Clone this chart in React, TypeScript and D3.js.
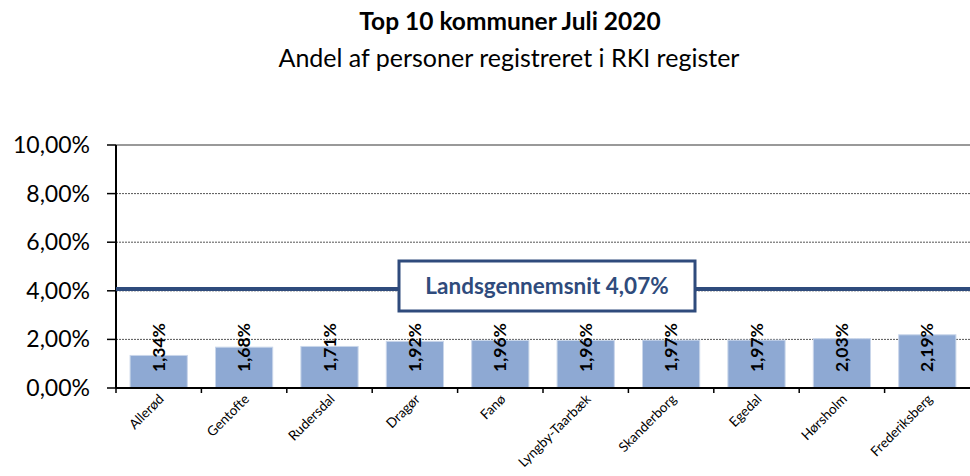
import React, { useEffect, useRef } from "react"
import * as d3 from "d3"

const kommuner = ["Allerød", "Gentofte", "Rudersdal", "Dragør", "Fanø", "Lyngby-Taarbæk", "Skanderborg", "Egedal", "Hørsholm", "Frederiksberg"]
const andel = [1.34, 1.68, 1.71, 1.92, 1.96, 1.96, 1.97, 1.97, 2.03, 2.19]
const yTicks = [0, 2, 4, 6, 8, 10]
const landsgennemsnit = 4.07

const fmt = (v: number, d: number) => v.toFixed(d).replace(".", ",") + "%"

export default function App() {
  const ref = useRef<SVGSVGElement>(null)

  useEffect(() => {
    const svg = d3.select(ref.current)
    svg.selectAll("*").remove()

    const left = 116
    const right = 970
    const top = 145
    const bottom = 388
    const font = "Lato, 'Open Sans', sans-serif"

    const x = d3.scaleBand().domain(kommuner).range([left, right]).paddingInner(0.33).paddingOuter(0.165)
    const y = d3.scaleLinear().domain([0, 10]).range([bottom, top])

    // titel
    svg.append("text")
      .attr("x", 510).attr("y", 30)
      .attr("text-anchor", "middle")
      .attr("font-family", font).attr("font-weight", "bold").attr("font-size", 24.5)
      .text("Top 10 kommuner Juli 2020")
    svg.append("text")
      .attr("x", 509).attr("y", 67)
      .attr("text-anchor", "middle")
      .attr("font-family", font).attr("font-size", 25)
      .text("Andel af personer registreret i RKI register")

    // gitterlinjer
    svg.append("g")
      .selectAll("line")
      .data(yTicks.filter(t => t > 0 && t < 10))
      .join("line")
      .attr("x1", left).attr("x2", right)
      .attr("y1", d => y(d)).attr("y2", d => y(d))
      .attr("stroke", "#555").attr("stroke-width", 1)
      .attr("stroke-dasharray", "2,1")

    svg.append("line")
      .attr("x1", left).attr("x2", right)
      .attr("y1", y(10)).attr("y2", y(10))
      .attr("stroke", "#999").attr("stroke-width", 2)

    // søjler
    svg.append("g")
      .selectAll("rect")
      .data(andel)
      .join("rect")
      .attr("x", (d, i) => x(kommuner[i]) as number)
      .attr("width", x.bandwidth())
      .attr("y", d => y(d))
      .attr("height", d => bottom - y(d))
      .attr("fill", "#8EA9D3")
      .attr("stroke", "#C9D6EA").attr("stroke-width", 1)

    // y-akse
    const yAxis = svg.append("g")
    yAxis.append("line")
      .attr("x1", left).attr("x2", left)
      .attr("y1", top).attr("y2", bottom)
      .attr("stroke", "#000").attr("stroke-width", 2)
    yAxis.selectAll("line.tick")
      .data(yTicks)
      .join("line")
      .attr("class", "tick")
      .attr("x1", left - 9).attr("x2", left)
      .attr("y1", d => y(d)).attr("y2", d => y(d))
      .attr("stroke", "#000").attr("stroke-width", 1.5)
    yAxis.selectAll("text")
      .data(yTicks)
      .join("text")
      .attr("x", 90)
      .attr("y", d => y(d))
      .attr("dy", "0.35em")
      .attr("text-anchor", "end")
      .attr("font-family", font).attr("font-size", 23)
      .text(d => fmt(d, 2))

    // x-akse
    const xAxis = svg.append("g")
    xAxis.append("line")
      .attr("x1", left).attr("x2", right)
      .attr("y1", bottom).attr("y2", bottom)
      .attr("stroke", "#000").attr("stroke-width", 2)
    const step = x.step()
    xAxis.selectAll("line.tick")
      .data(kommuner)
      .join("line")
      .attr("class", "tick")
      .attr("x1", (d) => (x(d) as number) - (step - x.bandwidth()) / 2)
      .attr("x2", (d) => (x(d) as number) - (step - x.bandwidth()) / 2)
      .attr("y1", bottom).attr("y2", bottom + 5)
      .attr("stroke", "#000").attr("stroke-width", 1.5)
    xAxis.selectAll("text")
      .data(kommuner)
      .join("text")
      .attr("transform", d => `translate(${(x(d) as number) + x.bandwidth() / 2 + 6},${bottom + 12}) rotate(-45)`)
      .attr("text-anchor", "end")
      .attr("font-family", font).attr("font-size", 13.5)
      .text(d => d)

    // værdi-etiketter
    svg.append("g")
      .selectAll("text")
      .data(andel)
      .join("text")
      .attr("transform", (d, i) => `translate(${(x(kommuner[i]) as number) + x.bandwidth() / 2},372) rotate(-90)`)
      .attr("dy", "0.35em")
      .attr("text-anchor", "start")
      .attr("font-family", font).attr("font-weight", "bold").attr("font-size", 17.5)
      .text(d => fmt(d, 2))

    // landsgennemsnit
    const yAvg = y(landsgennemsnit)
    svg.append("line")
      .attr("x1", left).attr("x2", right)
      .attr("y1", yAvg).attr("y2", yAvg)
      .attr("stroke", "#2F4B7C").attr("stroke-width", 4)
    svg.append("rect")
      .attr("x", 399).attr("y", 261)
      .attr("width", 296).attr("height", 50)
      .attr("fill", "#fff")
      .attr("stroke", "#2F4B7C").attr("stroke-width", 3)
    svg.append("text")
      .attr("x", 547).attr("y", 286)
      .attr("dy", "0.35em")
      .attr("text-anchor", "middle")
      .attr("font-family", font).attr("font-weight", "bold").attr("font-size", 22.5)
      .attr("fill", "#2F4B7C")
      .text("Landsgennemsnit " + fmt(landsgennemsnit, 2))
  }, [])

  return (
    <svg ref={ref} width={970} height={476} style={{ position: "absolute", left: 0, top: 0 }} />
  )
}
